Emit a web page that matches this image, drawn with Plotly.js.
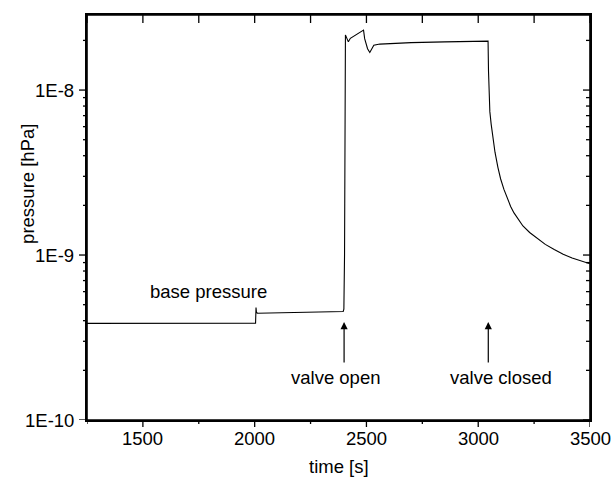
<!DOCTYPE html>
<html>
<head>
<meta charset="utf-8">
<script src="https://cdn.plot.ly/plotly-3.0.1.min.js"></script>
<style>
html,body{margin:0;padding:0;background:#fff;}
#chart{width:616px;height:491px;}
</style>
</head>
<body>
<div id="chart"></div>
<script>
// time [s]
const time = [1250, 1400, 1600, 1800, 2004, 2006, 2008, 2012, 2100, 2200, 2300, 2396, 2399, 2402,
  2406, 2419, 2428, 2487, 2492, 2505, 2515, 2524, 2533, 2560, 2700, 2850, 3000, 3044,
  3046, 3048, 3052, 3058, 3065, 3075, 3088, 3100, 3115, 3130, 3145, 3160, 3180, 3200, 3230, 3260, 3300, 3340, 3380, 3420, 3460, 3500];
// pressure [hPa]
const pressure = [3.85e-10, 3.85e-10, 3.86e-10, 3.86e-10, 3.86e-10, 4.8e-10, 4.5e-10, 4.44e-10, 4.46e-10, 4.48e-10, 4.5e-10, 4.55e-10, 4.7e-10, 1.0e-9,
  2.16e-8, 1.96e-8, 2.06e-8, 2.31e-8, 2.05e-8, 1.78e-8, 1.69e-8, 1.78e-8, 1.87e-8, 1.9e-8, 1.94e-8, 1.96e-8, 1.98e-8, 1.98e-8,
  1.3e-8, 9.0e-9, 7.4e-9, 6.2e-9, 5.2e-9, 4.2e-9, 3.4e-9, 2.9e-9, 2.5e-9, 2.2e-9, 1.97e-9, 1.8e-9, 1.63e-9, 1.5e-9, 1.37e-9, 1.27e-9, 1.16e-9, 1.08e-9, 1.01e-9, 9.6e-10, 9.2e-10, 8.85e-10];

const xMajor = [1500, 2000, 2500, 3000, 3500];
const xMajorText = ['1500', '2000', '2500', '3000', '3500'];
const xMinor = [1250, 1750, 2250, 2750, 3250];
const yMajor = [1e-10, 1e-9, 1e-8];
const yMajorText = ['1E-10', '1E-9', '1E-8'];
const yMinor = [2e-10,3e-10,4e-10,5e-10,6e-10,7e-10,8e-10,9e-10,2e-9,3e-9,4e-9,5e-9,6e-9,7e-9,8e-9,9e-9,2e-8];

const labels = [
  {text: 'base pressure', t: 1792, p: 5.97e-10},
  {text: 'valve open', t: 2361, p: 1.82e-10},
  {text: 'valve closed', t: 3100, p: 1.82e-10}
];
const arrows = [
  {t: 2400, p: 3.93e-10},
  {t: 3045, p: 3.93e-10}
];

const fontFamily = '"Liberation Sans", Arial, sans-serif';
function f() { return {family: fontFamily, size: 18.5, color: '#000'}; }

const trace = {x: time, y: pressure, type: 'scatter', mode: 'lines', line: {color: 'black', width: 1.1}};

const annotations = [];
labels.forEach(l => annotations.push({
  x: l.t, y: Math.log10(l.p), xref: 'x', yref: 'y', text: l.text, showarrow: false,
  xanchor: 'center', yanchor: 'middle', font: f()
}));
arrows.forEach(a => annotations.push({
  x: a.t, y: Math.log10(a.p), xref: 'x', yref: 'y', text: '', showarrow: true,
  ax: 0, ay: 42, arrowhead: 2, arrowsize: 1.2, arrowwidth: 1.2, arrowcolor: 'black', standoff: 0
}));
xMajor.forEach((v, i) => annotations.push({
  x: v, xref: 'x', y: 0, yref: 'paper', yshift: -18, text: xMajorText[i], showarrow: false,
  xanchor: 'center', yanchor: 'middle', font: f()
}));
yMajor.forEach((v, i) => annotations.push({
  x: 0, xref: 'paper', y: Math.log10(v), yref: 'y', xshift: -11, text: yMajorText[i], showarrow: false,
  xanchor: 'right', yanchor: 'middle', font: f()
}));
annotations.push({
  text: 'pressure [hPa]', xref: 'paper', yref: 'paper', x: 0, y: 0.583, xshift: -59,
  textangle: -90, showarrow: false, xanchor: 'center', yanchor: 'middle', font: f()
});
annotations.push({
  text: 'time [s]', xref: 'paper', yref: 'paper', x: 0.5, y: 0, yshift: -46,
  showarrow: false, xanchor: 'center', yanchor: 'middle', font: f()
});

// tick marks drawn as pixel-sized shapes on the axes' scales
const shapes = [];
function xTick(v, atTop, len) {
  shapes.push({type: 'line', xref: 'x', x0: v, x1: v, yref: 'paper', ysizemode: 'pixel',
    yanchor: atTop ? 1 : 0, y0: 0, y1: -len, line: {color: 'black', width: 1.3}});
}
function yTick(v, atRight, len) {
  shapes.push({type: 'line', yref: 'y', y0: v, y1: v, xref: 'paper', xsizemode: 'pixel',
    xanchor: atRight ? 1 : 0, x0: 0, x1: -len, line: {color: 'black', width: 1.3}});
}
xMajor.concat(xMinor).forEach(v => xTick(v, true, 8));
xMajor.forEach(v => xTick(v, false, 7));
xMinor.forEach(v => xTick(v, false, 4));
yMajor.forEach(v => { yTick(v, true, 7); yTick(v, false, 8); });
yMinor.forEach(v => { yTick(v, true, 4); yTick(v, false, 4); });
shapes.push({type: 'rect', xref: 'paper', yref: 'paper', x0: 0, x1: 1, y0: 0, y1: 1,
  line: {color: 'black', width: 1.6}});

const layout = {
  width: 616, height: 491, margin: {l: 87, r: 26, t: 15, b: 71},
  xaxis: {range: [1250, 3500], showline: true, mirror: true, linecolor: 'black', linewidth: 1.6,
    showticklabels: false, gridcolor: 'rgba(0,0,0,0)'},
  yaxis: {type: 'log', range: [-10, -7.545], showline: true, mirror: true, linecolor: 'black', linewidth: 1.6,
    showticklabels: false, gridcolor: 'rgba(0,0,0,0)'},
  shapes: shapes,
  annotations: annotations
};
Plotly.newPlot('chart', [trace], layout, {displayModeBar: false, staticPlot: true});
</script>
</body>
</html>
